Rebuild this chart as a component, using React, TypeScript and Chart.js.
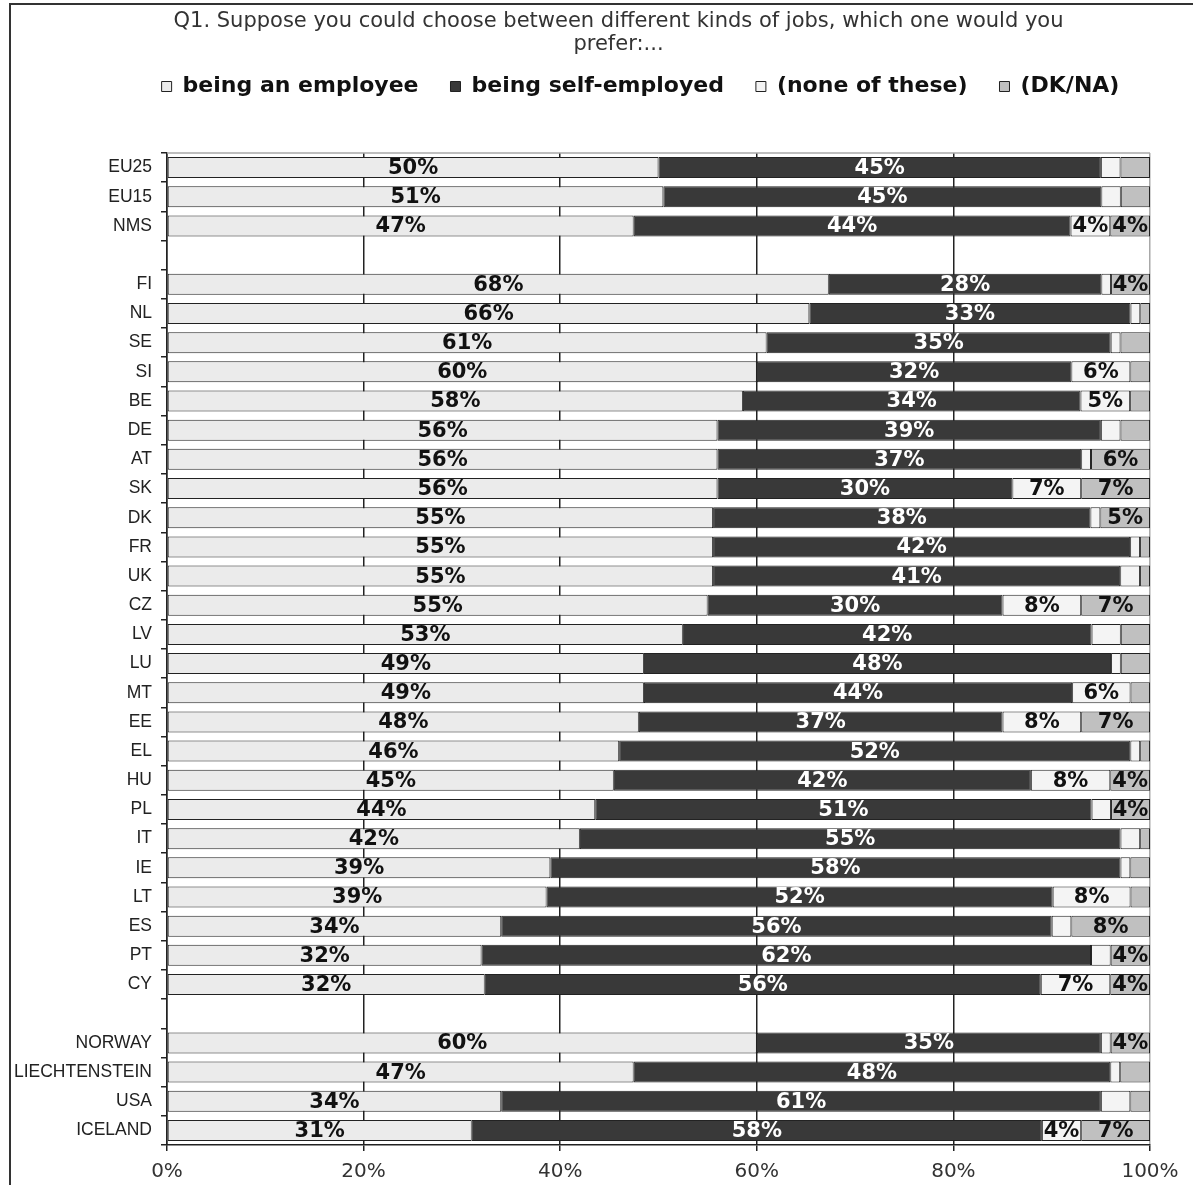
import React, { useEffect, useRef } from 'react';
import { Chart, registerables } from 'chart.js';

Chart.register(...registerables);

const titleLines = [
  'Q1. Suppose you could choose between different kinds of jobs, which one would you',
  'prefer:...',
];

const categories = [
  'EU25', 'EU15', 'NMS', '',
  'FI', 'NL', 'SE', 'SI', 'BE', 'DE', 'AT', 'SK', 'DK', 'FR', 'UK', 'CZ', 'LV', 'LU', 'MT', 'EE',
  'EL', 'HU', 'PL', 'IT', 'IE', 'LT', 'ES', 'PT', 'CY', '',
  'NORWAY', 'LIECHTENSTEIN', 'USA', 'ICELAND',
];

const seriesNames = ['being an employee', 'being self-employed', '(none of these)', '(DK/NA)'];

const employee = [50, 51, 47, null, 68, 66, 61, 60, 58, 56, 56, 56, 55, 55, 55, 55, 53, 49, 49, 48, 46, 45, 44, 42, 39, 39, 34, 32, 32, null, 60, 47, 34, 31];
const selfEmployed = [45, 45, 44, null, 28, 33, 35, 32, 34, 39, 37, 30, 38, 42, 41, 30, 42, 48, 44, 37, 52, 42, 51, 55, 58, 52, 56, 62, 56, null, 35, 48, 61, 58];
const noneOfThese = [2, 2, 4, null, 1, 1, 1, 6, 5, 2, 1, 7, 1, 1, 2, 8, 3, 1, 6, 8, 1, 8, 2, 2, 1, 8, 2, 2, 7, null, 1, 1, 3, 4];
const dkNa = [3, 3, 4, null, 4, 1, 3, 2, 2, 3, 6, 7, 5, 1, 1, 7, 3, 3, 2, 7, 1, 4, 4, 1, 2, 2, 8, 4, 4, null, 4, 3, 2, 7];

const xTicks = [0, 20, 40, 60, 80, 100];

const seriesValues = [employee, selfEmployed, noneOfThese, dkNa];
const fills = ['#ebebeb', '#393939', '#f4f4f4', '#c0c0c0'];
const labelColors = ['#111111', '#ffffff', '#111111', '#111111'];

const rowTotal = (i: number) =>
  seriesValues.reduce((s, arr) => s + ((arr[i] as number) || 0), 0);

const valueLabels = {
  id: 'valueLabels',
  afterDatasetsDraw(chart: any) {
    const ctx = chart.ctx;
    ctx.save();
    ctx.font = 'bold 21px "DejaVu Sans"';
    ctx.textAlign = 'center';
    ctx.textBaseline = 'middle';
    chart.data.datasets.forEach((_ds: any, di: number) => {
      const meta = chart.getDatasetMeta(di);
      const raw = seriesValues[di];
      meta.data.forEach((el: any, i: number) => {
        const v = raw[i];
        if (v == null || v < 4) return;
        const { x, base, y } = el.getProps(['x', 'base', 'y'], true);
        ctx.fillStyle = labelColors[di];
        ctx.fillText(v + '%', (x + base) / 2, y + 1);
      });
    });
    ctx.restore();
  },
};

const plotFrame = {
  id: 'plotFrame',
  beforeDatasetsDraw(chart: any) {
    const { ctx, chartArea } = chart;
    ctx.save();
    ctx.strokeStyle = '#a8a8a8';
    ctx.lineWidth = 1.5;
    ctx.beginPath();
    ctx.moveTo(chartArea.left, chartArea.top);
    ctx.lineTo(chartArea.right, chartArea.top);
    ctx.stroke();
    ctx.restore();
  },
};

// shift the title and legend blocks horizontally, as in the original page
const headerShift = {
  id: 'headerShift',
  afterLayout(chart: any) {
    const t = chart.titleBlock;
    if (t) {
      t.left += 38;
      t.right += 38;
    }
    const l = chart.legend;
    if (l) {
      l.left += 60;
      l.right += 60;
    }
  },
};

export default function App() {
  const ref = useRef<HTMLCanvasElement>(null);

  useEffect(() => {
    if (!ref.current) return;
    const data = {
      labels: categories,
      datasets: seriesValues.map((arr, di) => ({
        label: seriesNames[di],
        data: arr.map((v, i) => (v == null ? null : ((v as number) / rowTotal(i)) * 100)),
        backgroundColor: fills[di],
        borderColor: '#222222',
        borderWidth: 1,
        borderSkipped: false,
        barPercentage: 0.72,
        categoryPercentage: 1.0,
      })),
    };
    const chart = new Chart(ref.current, {
      type: 'bar',
      data,
      options: {
        indexAxis: 'y',
        responsive: false,
        animation: false,
        events: [],
        layout: { padding: { left: 0, right: 43, top: 0, bottom: 0 } },
        plugins: {
          tooltip: { enabled: false },
          title: {
            display: true,
            text: titleLines,
            color: '#333333',
            font: { family: '"DejaVu Sans"', size: 21, weight: 'normal', lineHeight: '23px' },
            padding: { top: 4.5, bottom: 9 },
          },
          legend: {
            display: true,
            position: 'top',
            labels: {
              boxWidth: 10,
              boxHeight: 10,
              padding: 10,
              color: '#111111',
              font: { family: '"DejaVu Sans"', size: 22, weight: 'bold' },
              generateLabels(c: any) {
                const items = (Chart.defaults.plugins.legend.labels as any).generateLabels(c);
                return items.map((it: any, i: number) => ({
                  ...it,
                  text: i < items.length - 1 ? it.text + '\u2003' : it.text,
                }));
              },
            },
          },
        },
        scales: {
          x: {
            stacked: true,
            min: 0,
            max: 100,
            afterBuildTicks: (s: any) => {
              s.ticks = xTicks.map((v) => ({ value: v }));
            },
            afterFit: (s: any) => {
              s.height = 40;
            },
            ticks: {
              callback: (v: any) => v + '%',
              color: '#333333',
              padding: 9,
              font: { family: '"DejaVu Sans"', size: 20 },
              maxRotation: 0,
            },
            grid: {
              color: (c: any) => (c.tick && c.tick.value === 100 ? '#a8a8a8' : '#222222'),
              lineWidth: 1.5,
              tickLength: 6,
              tickColor: '#222222',
              drawTicks: true,
            },
            border: { display: true, color: '#222222', width: 1.5 },
          },
          xTop: {
            type: 'linear',
            position: 'top',
            display: true,
            grid: { display: false },
            ticks: { display: false },
            border: { display: false },
            afterFit: (s: any) => {
              s.height = 45.5;
            },
          },
          y: {
            stacked: true,
            afterFit: (s: any) => {
              s.width = 156;
            },
            ticks: {
              color: '#222222',
              padding: 9,
              autoSkip: false,
              font: { family: '"Liberation Sans"', size: 17.5 },
            },
            grid: {
              offset: true,
              drawOnChartArea: false,
              drawTicks: true,
              tickLength: 6,
              color: '#222222',
              lineWidth: 1.5,
            },
            border: { display: true, color: '#222222', width: 1.5 },
          },
        },
      } as any,
      plugins: [plotFrame, valueLabels, headerShift],
    });
    return () => chart.destroy();
  }, []);

  return (
    <div style={{ position: 'fixed', left: 0, top: 0, width: 1193, height: 1185, overflow: 'hidden', background: '#ffffff' }}>
      <div
        style={{
          position: 'absolute',
          left: 9,
          top: 3,
          width: 2000,
          height: 2000,
          borderLeft: '2px solid #333333',
          borderTop: '2px solid #333333',
        }}
      />
      <canvas ref={ref} width={1182} height={1179} style={{ position: 'absolute', left: 11, top: 6 }} />
    </div>
  );
}
